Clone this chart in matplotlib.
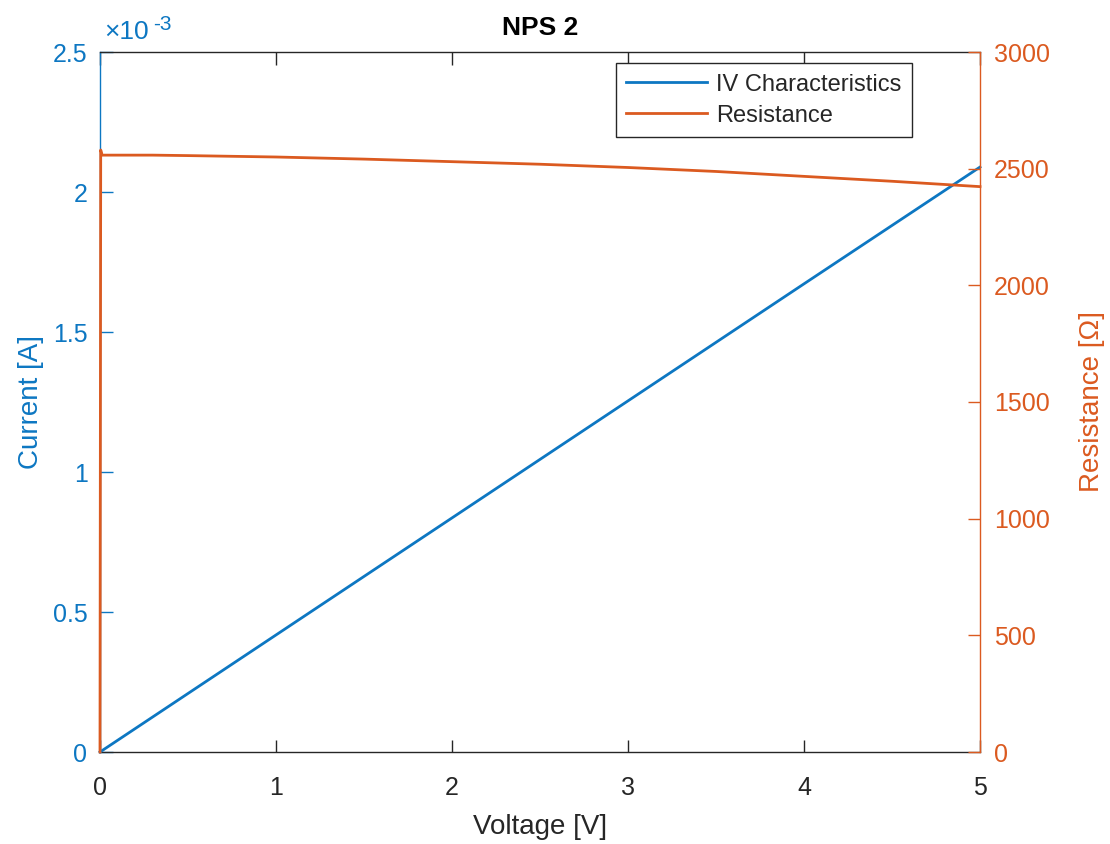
import matplotlib
matplotlib.use("Agg")
import matplotlib.pyplot as plt
from matplotlib.ticker import FuncFormatter

plt.rcParams['font.family'] = ['Liberation Sans', 'DejaVu Sans']

# Measured sweep (voltage in V)
voltage_iv = [0.0, 1.0, 2.0, 3.0, 4.0, 5.0]
current_a = [0.0, 0.418e-3, 0.836e-3, 1.254e-3, 1.672e-3, 2.089e-3]

voltage_r = [0.0, 0.004, 0.012, 0.3, 0.5, 1.0, 1.5, 2.0, 2.5, 3.0, 3.5, 4.0, 4.5, 5.0]
resistance_ohm = [0, 2580, 2558, 2558, 2556, 2550, 2541, 2530, 2519, 2505,
                  2488, 2467, 2446, 2423]

title = "NPS 2"
x_ticks = [0, 1, 2, 3, 4, 5]
current_ticks = [0, 0.5e-3, 1.0e-3, 1.5e-3, 2.0e-3, 2.5e-3]
resistance_ticks = [0, 500, 1000, 1500, 2000, 2500, 3000]

BLUE = '#0D77C2'
ORANGE = '#DB5A20'
GREY = '#262626'

fig = plt.figure(figsize=(11.1, 8.44), dpi=100)
ax = fig.add_axes([100 / 1110, 1 - 752 / 844, 880 / 1110, 700 / 844])
ax2 = ax.twinx()

l1, = ax.plot(voltage_iv, current_a, color=BLUE, lw=2.0, clip_on=False, zorder=3)
l2, = ax2.plot(voltage_r, resistance_ohm, color=ORANGE, lw=2.0, clip_on=False,
               zorder=3)

ax.set_xlim(0, 5)
ax.set_ylim(0, 2.5e-3)
ax2.set_ylim(0, 3000)
ax.set_xticks(x_ticks)
ax.set_yticks(current_ticks)
ax2.set_yticks(resistance_ticks)
ax.yaxis.set_major_formatter(FuncFormatter(lambda v, p: f"{v * 1e3:g}"))

tick_fs = 18
ax.tick_params(axis='x', direction='in', length=9, width=1, colors=GREY,
               labelsize=tick_fs, pad=17, top=True)
ax.tick_params(axis='y', direction='in', length=9, width=1, colors=BLUE,
               labelsize=tick_fs, pad=9)
ax2.tick_params(axis='y', direction='in', length=9, width=1, colors=ORANGE,
                labelsize=tick_fs, pad=10)

for a in (ax, ax2):
    a.spines['top'].set_color(GREY)
    a.spines['bottom'].set_color(GREY)
    a.spines['left'].set_color(BLUE)
    a.spines['right'].set_color(ORANGE)
    for s in a.spines.values():
        s.set_linewidth(1.0)
ax2.spines['left'].set_visible(False)
ax2.spines['top'].set_visible(False)
ax2.spines['bottom'].set_visible(False)
ax.spines['right'].set_visible(False)

ax.set_xlabel("Voltage [V]", fontsize=20, color=GREY, labelpad=10)
ax.set_ylabel("Current [A]", fontsize=20, color=BLUE, labelpad=6)
ax2.set_ylabel("Resistance [Ω]", fontsize=20, color=ORANGE, labelpad=21)
ax.set_title(title, fontsize=19, fontweight='bold', color='black', pad=12)

# Exponent marker for the current axis
fig.text(104 / 1110, 1 - 32 / 844, "×10", fontsize=19, color=BLUE,
         ha='left', va='center')
fig.text(153 / 1110, 1 - 25 / 844, "-3", fontsize=15, color=BLUE,
         ha='left', va='center')

leg = ax.legend([l1, l2], ["IV Characteristics", "Resistance"],
                loc='upper right', bbox_to_anchor=(912 / 1110, 1 - 63 / 844),
                bbox_transform=fig.transFigure, fontsize=17, fancybox=False,
                framealpha=1, edgecolor=GREY, borderpad=0.45, handlelength=3.4,
                handletextpad=0.4, labelspacing=0.38, borderaxespad=0)
leg.get_frame().set_linewidth(1.0)
leg.set_zorder(5)
for t in leg.get_texts():
    t.set_color(GREY)

fig.savefig("out.png", dpi=100)
